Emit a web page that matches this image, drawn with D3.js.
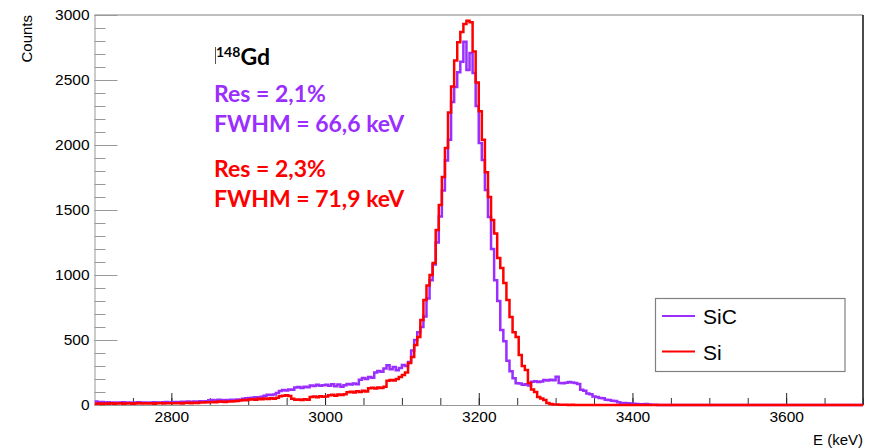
<!DOCTYPE html>
<html>
<head>
<meta charset="utf-8">
<script src="https://cdn.jsdelivr.net/npm/d3@7"></script>
<style>
  html, body { margin: 0; padding: 0; background: #fff; }
  svg { display: block; }
</style>
</head>
<body>
<svg id="spectrum"></svg>
<script>
// histogram binning (keV)
const binLow = 2700;
const binHigh = 3700;
const binWidth = 4;

// SiC counts per 4 keV bin, from 2700 keV
const sicCounts = [
  26, 22, 24, 19, 21, 18, 20, 17, 19, 22, 18, 20, 16, 19, 21, 18, 20, 17, 19, 22, 20, 18, 21, 23, 20,
  22, 24, 21, 25, 23, 26, 24, 27, 25, 28, 26, 29, 36, 38, 35, 40, 37, 39, 36, 41, 38, 42, 40, 48, 52,
  54, 56, 60, 58, 64, 72, 78, 76, 80, 92, 108, 115, 112, 120, 118, 135, 138, 130, 140, 136, 150, 146, 155, 148, 152,
  156, 148, 160, 145, 158, 140, 152, 162, 158, 165, 160, 195, 208, 200, 215, 210, 250, 262, 255, 280, 305, 275, 292, 268, 285,
  308, 300, 330, 420, 500, 560, 600, 680, 820, 960, 1080, 1250, 1450, 1650, 1880, 2040, 2330, 2446, 2560, 2641, 2795, 2577, 2708, 2554, 2300,
  2015, 1885, 1654, 1446, 1200, 960, 800, 577, 490, 340, 260, 205, 168, 165, 155, 160, 150, 178, 182, 176, 180, 192, 188, 195, 190,
  218, 170, 168, 172, 176, 174, 170, 162, 118, 110, 88, 82, 66, 62, 54, 52, 40, 38, 32, 30, 22, 16, 15, 14, 12,
  10, 8, 6, 5, 8, 4, 2, 1, 0, 0, 0, 0, 0, 0, 0, 0, 0, 0, 0, 0, 0, 0, 0, 0, 0,
  0, 0, 0, 0, 0, 0, 0, 0, 0, 0, 0, 0, 0, 0, 0, 0, 0, 0, 0, 0, 0, 0, 0, 0, 0,
  0, 0, 0, 0, 0, 0, 0, 0, 0, 0, 0, 0, 0, 0, 0, 0, 0, 0, 0, 0, 0, 0, 0, 0, 0
];

// Si counts per 4 keV bin, from 2700 keV
const siCounts = [
  10, 12, 8, 11, 9, 13, 10, 12, 14, 9, 11, 13, 10, 12, 15, 11, 13, 12, 14, 10, 13, 15, 12, 14, 13,
  14, 13, 16, 12, 15, 17, 14, 18, 16, 20, 19, 22, 21, 24, 22, 26, 25, 23, 27, 26, 29, 31, 35, 38, 36,
  42, 45, 40, 48, 44, 50, 47, 52, 49, 55, 68, 72, 75, 70, 48, 40, 42, 38, 44, 41, 62, 66, 60, 68, 64,
  66, 75, 78, 72, 80, 76, 82, 98, 102, 96, 105, 100, 110, 104, 128, 132, 126, 135, 131, 140, 186, 192, 188, 200, 215,
  230, 250, 323, 369, 461, 523, 654, 808, 920, 1000, 1092, 1346, 1538, 1754, 1977, 2250, 2450, 2650, 2790, 2870, 2930, 2955, 2945, 2720, 2480,
  2260, 2040, 1790, 1600, 1423, 1320, 1130, 1054, 938, 808, 677, 560, 523, 385, 300, 269, 169, 120, 100, 62, 50, 38, 15, 8, 4,
  3, 2, 1, 1, 0, 1, 0, 0, 0, 0, 0, 0, 0, 0, 0, 0, 0, 0, 0, 0, 0, 0, 0, 0, 0,
  0, 0, 0, 0, 0, 0, 0, 0, 0, 0, 0, 0, 0, 0, 0, 0, 0, 0, 0, 0, 0, 0, 0, 0, 0,
  0, 0, 0, 0, 0, 0, 0, 0, 0, 0, 0, 0, 0, 0, 0, 0, 0, 0, 0, 0, 0, 0, 0, 0, 0,
  0, 0, 0, 0, 0, 0, 0, 0, 0, 0, 0, 0, 0, 0, 0, 0, 0, 0, 0, 0, 0, 0, 0, 0, 0
];

const seriesNames = ["SiC", "Si"];
const seriesColors = ["#9a2eff", "#ff0000"];

const xMajorTicks = [2800, 3000, 3200, 3400, 3600];
const yMajorTicks = [0, 500, 1000, 1500, 2000, 2500, 3000];

const sourceLabel = ["148", "Gd"];
const resLines = [
  ["Res = 2,1%", "FWHM = 66,6 keV"],
  ["Res = 2,3%", "FWHM = 71,9 keV"]
];

class SpectrumChart {
  constructor(_series) {
    this.series = _series;
    this.initVis();
  }

  initVis() {
    let vis = this;

    vis.width = 871;
    vis.height = 448;
    vis.margin = { left: 94.5, right: 8, top: 15, bottom: 43 };

    vis.svg = d3.select("#spectrum")
      .attr("width", vis.width)
      .attr("height", vis.height)
      .style("font-family", "'Liberation Sans', Arial, sans-serif");

    vis.x = d3.scaleLinear()
      .domain([binLow, binHigh])
      .range([vis.margin.left, vis.width - vis.margin.right]);
    vis.y = d3.scaleLinear()
      .domain([0, 3000])
      .range([vis.height - vis.margin.bottom, vis.margin.top]);

    vis.svg.append("clipPath").attr("id", "plot-clip")
      .append("rect")
      .attr("x", vis.x.range()[0])
      .attr("y", vis.y.range()[1] - 2)
      .attr("width", vis.x.range()[1] - vis.x.range()[0])
      .attr("height", vis.y.range()[0] - vis.y.range()[1] + 4);

    vis.drawAxes();
    vis.renderVis();
    vis.drawLabels();
  }

  drawAxes() {
    let vis = this;
    const [x0, x1] = vis.x.range();
    const [y0, y1] = vis.y.range();
    const fmt = d3.format("d");

    // frame top (grey) and right (black)
    vis.svg.append("line")
      .attr("x1", x0).attr("x2", x1).attr("y1", y1).attr("y2", y1)
      .attr("stroke", "#aaa").attr("stroke-width", 1.5);
    vis.svg.append("line")
      .attr("x1", x1).attr("x2", x1).attr("y1", y1).attr("y2", y0)
      .attr("stroke", "#111").attr("stroke-width", 1.5);

    // y axis minor ticks
    vis.svg.append("g")
      .attr("transform", `translate(${x0},0)`)
      .call(d3.axisLeft(vis.y).tickValues(d3.range(0, 3001, 100)).tickSize(-11).tickFormat(""))
      .call(g => g.select(".domain").remove())
      .call(g => g.selectAll("line").attr("stroke", "#999"));

    // y axis major
    vis.svg.append("g")
      .attr("transform", `translate(${x0},0)`)
      .call(d3.axisLeft(vis.y).tickValues(yMajorTicks).tickFormat(fmt)
        .tickSize(-23).tickSizeOuter(0).tickPadding(5))
      .call(g => g.select(".domain").attr("stroke", "#999"))
      .call(g => g.selectAll("line").attr("stroke", "#999"))
      .call(g => g.selectAll("text").attr("font-size", 15.5).attr("fill", "#000")
        .attr("font-family", "'Liberation Sans', Arial, sans-serif"));

    // x axis minor ticks
    vis.svg.append("g")
      .attr("transform", `translate(0,${y0})`)
      .call(d3.axisBottom(vis.x).tickValues(d3.range(2750, 3701, 50)).tickSize(-7).tickFormat(""))
      .call(g => g.select(".domain").remove())
      .call(g => g.selectAll("line").attr("stroke", "#333"));

    // x axis major
    vis.svg.append("g")
      .attr("transform", `translate(0,${y0})`)
      .call(d3.axisBottom(vis.x).tickValues(xMajorTicks).tickFormat(fmt)
        .tickSize(-12).tickSizeOuter(0).tickPadding(6))
      .call(g => g.select(".domain").attr("stroke", "#999"))
      .call(g => g.selectAll("line").attr("stroke", "#222"))
      .call(g => g.selectAll("text").attr("font-size", 15.5).attr("fill", "#000")
        .attr("font-family", "'Liberation Sans', Arial, sans-serif"));

    // axis titles
    vis.svg.append("text")
      .attr("x", x1).attr("y", 445)
      .attr("text-anchor", "end")
      .attr("font-size", 15)
      .text("E (keV)");
    vis.svg.append("text")
      .attr("transform", `translate(32,${y1}) rotate(-90)`)
      .attr("text-anchor", "end")
      .attr("font-size", 15)
      .text("Counts");
  }

  renderVis() {
    let vis = this;

    vis.line = d3.line()
      .x(d => vis.x(d.e))
      .y(d => vis.y(d.c))
      .curve(d3.curveStepAfter);

    const toSteps = counts => {
      const pts = counts.map((c, i) => ({ e: binLow + i * binWidth, c: c }));
      pts.push({ e: binHigh, c: counts[counts.length - 1] });
      return pts;
    };

    vis.svg.append("g")
      .attr("clip-path", "url(#plot-clip)")
      .selectAll("path")
      .data(vis.series)
      .join("path")
      .attr("d", d => vis.line(toSteps(d.counts)))
      .attr("fill", "none")
      .attr("stroke", (_, i) => seriesColors[i])
      .attr("stroke-width", 2.5)
      .attr("stroke-linejoin", "miter");
  }

  drawLabels() {
    let vis = this;

    // source label with superscript mass number
    vis.svg.append("line")
      .attr("x1", 215.5).attr("x2", 215.5).attr("y1", 47).attr("y2", 64)
      .attr("stroke", "#555").attr("stroke-width", 1);
    const src = vis.svg.append("text")
      .attr("x", 216).attr("y", 65)
      .attr("font-family", "Lato, 'Open Sans', sans-serif")
      .attr("font-weight", 700)
      .attr("fill", "#000");
    src.append("tspan").attr("font-size", 14).attr("dy", -8).text(sourceLabel[0]);
    src.append("tspan").attr("font-size", 23).attr("dy", 8).text(sourceLabel[1]);

    const baselines = [[101.5, 131.5], [176.5, 206.5]];
    resLines.forEach((lines, i) => {
      lines.forEach((t, j) => {
        vis.svg.append("text")
          .attr("x", 214).attr("y", baselines[i][j])
          .attr("font-family", "Lato, 'Open Sans', sans-serif")
          .attr("font-weight", 700)
          .attr("font-size", 23)
          .attr("fill", seriesColors[i])
          .text(t);
      });
    });

    // legend
    const lg = vis.svg.append("g");
    lg.append("rect")
      .attr("x", 655.5).attr("y", 298.5)
      .attr("width", 189.5).attr("height", 73)
      .attr("fill", "#fff").attr("stroke", "#808080").attr("stroke-width", 1.2);
    const rows = lg.selectAll(".legend-row")
      .data(seriesNames)
      .join("g")
      .attr("class", "legend-row")
      .attr("transform", (_, i) => `translate(0,${316 + i * 35.5})`);
    rows.append("line")
      .attr("x1", 662).attr("x2", 695)
      .attr("stroke", (_, i) => seriesColors[i])
      .attr("stroke-width", 2);
    rows.append("text")
      .attr("x", 703).attr("y", 8)
      .attr("font-size", 21)
      .attr("fill", "#000")
      .text(d => d);
  }
}

const chart = new SpectrumChart([
  { name: seriesNames[0], counts: sicCounts },
  { name: seriesNames[1], counts: siCounts }
]);
</script>
</body>
</html>
